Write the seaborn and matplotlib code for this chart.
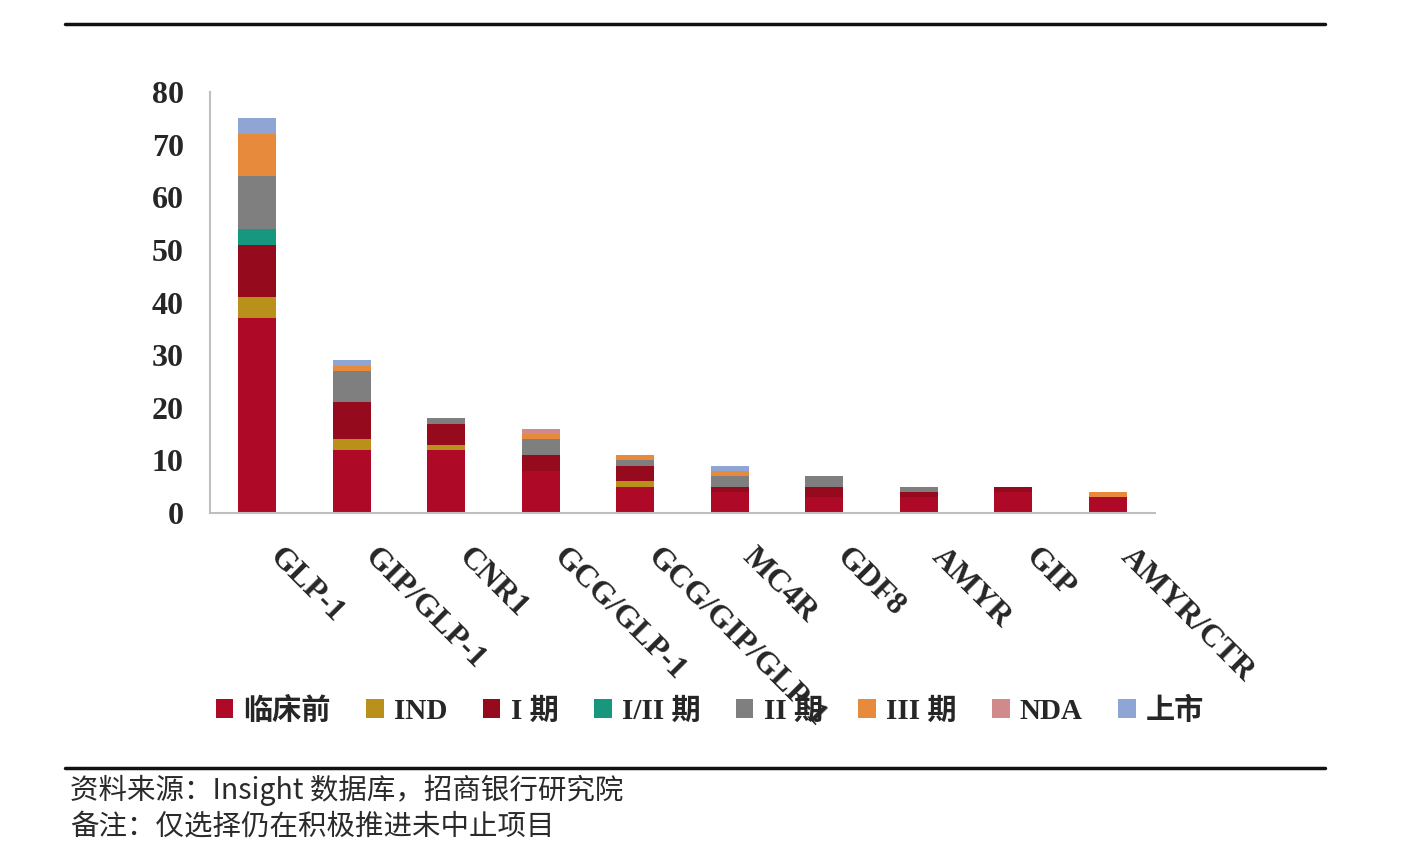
# 靶点别在研项目阶段分布：堆叠柱状图（seaborn 叠加累计值实现）

import numpy as np
import pandas as pd
import matplotlib
matplotlib.use("Agg")
import matplotlib.pyplot as plt
import matplotlib.transforms as mtransforms
import seaborn as sns
from matplotlib.patches import Patch
from matplotlib.lines import Line2D

TARGETS = ["GLP-1", "GIP/GLP-1", "CNR1", "GCG/GLP-1", "GCG/GIP/GLP-1",
           "MC4R", "GDF8", "AMYR", "GIP", "AMYR/CTR"]
STAGES = ["临床前", "IND", "I 期", "I/II 期", "II 期", "III 期", "NDA", "上市"]
COLORS = ["#AE0A28", "#B8901A", "#960A1E", "#16977E",
          "#7F7F7F", "#E88A3C", "#D08A8C", "#8FA6D5"]

# 各阶段项目数
preclinical = [37, 12, 12, 8, 5, 4, 3, 3, 4, 3]
ind         = [4, 2, 1, 0, 1, 0, 0, 0, 0, 0]
phase1      = [10, 7, 4, 3, 3, 1, 2, 1, 1, 0]
phase1_2    = [3, 0, 0, 0, 0, 0, 0, 0, 0, 0]
phase2      = [10, 6, 1, 3, 1, 2, 2, 1, 0, 0]
phase3      = [8, 1, 0, 1, 1, 1, 0, 0, 0, 1]
nda         = [0, 0, 0, 1, 0, 0, 0, 0, 0, 0]
launched    = [3, 1, 0, 0, 0, 1, 0, 0, 0, 0]

SERIES = [preclinical, ind, phase1, phase1_2, phase2, phase3, nda, launched]

LATIN_CJK = ["Liberation Serif", "Noto Sans CJK SC"]

sns.set_style("white")
plt.rcParams["font.family"] = LATIN_CJK
plt.rcParams["axes.unicode_minus"] = False


def make_plot():
    df = pd.DataFrame(np.array(SERIES).T, columns=STAGES)
    df.insert(0, "target", TARGETS)
    cum = df[STAGES].cumsum(axis=1)

    fig = plt.figure(figsize=(14.24, 8.57), dpi=100)
    ax = fig.add_axes([0.1475, 0.4014, 0.6635, 0.4912])

    # 累计值从高到低依次叠画，形成堆叠效果
    for stage, color in reversed(list(zip(STAGES, COLORS))):
        sns.barplot(x=df["target"], y=cum[stage], color=color, width=0.4,
                    saturation=1, linewidth=0, ax=ax)

    ax.set_xlim(-0.5, 9.5)
    ax.set_ylim(0, 80)
    ax.set_yticks(range(0, 81, 10))
    ax.set_xlabel("")
    ax.set_ylabel("")
    for s in ["top", "right"]:
        ax.spines[s].set_visible(False)
    for s in ["left", "bottom"]:
        ax.spines[s].set_color("#BFBFBF")
        ax.spines[s].set_linewidth(1.5)
    ax.tick_params(axis="y", length=6, width=1.2, color="#BFBFBF", pad=13,
                   labelsize=23)
    ax.tick_params(axis="x", length=0, pad=18)
    for lab in ax.get_yticklabels():
        lab.set_fontweight("bold")
    ax.set_xticks(range(len(TARGETS)))
    ax.set_xticklabels(TARGETS, rotation=-45, ha="left", va="center",
                       rotation_mode="anchor", fontsize=23, fontweight="bold")
    shift = mtransforms.ScaledTranslation(0.17, -0.15, fig.dpi_scale_trans)
    for lab in ax.get_xticklabels():
        lab.set_transform(lab.get_transform() + shift)

    handles = [Patch(facecolor=c, edgecolor="none") for c in COLORS]
    fig.legend(handles, STAGES, loc="center", bbox_to_anchor=(0.4986, 0.171),
               ncol=8, frameon=False, handlelength=0.6, handleheight=0.6,
               handletextpad=0.35, columnspacing=1.22,
               prop={"family": LATIN_CJK, "size": 21, "weight": "bold"})

    # 页眉/页脚分隔线
    fig.add_artist(Line2D([0.0456, 0.9305], [0.972, 0.972], color="#111111",
                          linewidth=2.5, transform=fig.transFigure))
    fig.add_artist(Line2D([0.0456, 0.9305], [0.104, 0.104], color="#111111",
                          linewidth=2.5, transform=fig.transFigure))

    foot = ["Noto Sans CJK SC", "DejaVu Sans"]
    fig.text(0.049, 0.078, "资料来源：Insight 数据库，招商银行研究院",
             fontsize=20.5, family=foot, color="#2A2A2A", va="center")
    fig.text(0.049, 0.035, "备注：仅选择仍在积极推进未中止项目",
             fontsize=20.5, family=foot, color="#2A2A2A", va="center")

    fig.savefig("out.png", dpi=100)
    plt.close(fig)


make_plot()
